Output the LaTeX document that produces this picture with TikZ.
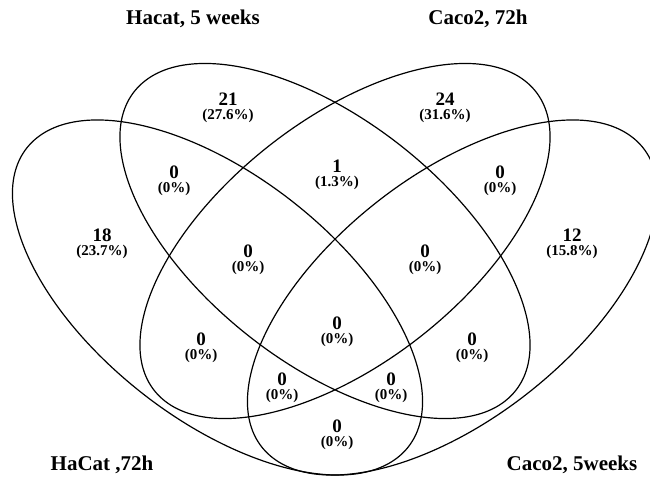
\documentclass[tikz,border=0pt]{standalone}
\usepackage{fontspec}
\setmainfont{Liberation Serif}
\usetikzlibrary{positioning}

\begin{document}
\begin{tikzpicture}[x=1pt, y=-1pt, line width=1.2pt,
    setname/.style={font=\bfseries\fontsize{21}{21}\selectfont},
    count/.style={inner sep=0pt, font=\bfseries\fontsize{19}{19}\selectfont},
    share/.style={inner sep=0pt, font=\bfseries\fontsize{15}{15}\selectfont}]
  \useasboundingbox (0,0) rectangle (650,477);
  \clip (0,0) rectangle (650,477);

  % the four sets: A = HaCat 72h, B = Hacat 5 weeks, C = Caco2 72h, D = Caco2 5weeks
  \foreach \cx/\cy/\ang in {217.5/297.5/-45, 325/241/-45, 345/241/45, 452.5/297.5/45}
    \draw[shift={(\cx,\cy)}, xscale=1.155, rotate=\ang] (0,0) ellipse [x radius=223.5, y radius=114.3];

  \node[setname] (B name) at (193,19) {Hacat, 5 weeks};
  \node[setname] (C name) at (478,19) {Caco2, 72h};
  \node[setname] (A name) at (102,465) {HaCat ,72h};
  \node[setname] (D name) at (572,465) {Caco2, 5weeks};

  % counts and shares per region
  \foreach \r/\x/\y/\num/\pct in {B/228/99/21/27.6, C/445/99/24/31.6,
      AB/174/172/0/0, BC/337/166/1/1.3, CD/500/172/0/0,
      A/102/235/18/23.7, D/572/235/12/15.8,
      ABC/248/251/0/0, BCD/425/251/0/0, ABCD/337/323/0/0,
      AC/201/339/0/0, BD/472/339/0/0,
      ACD/282/379/0/0, ABD/391/379/0/0, AD/337/426/0/0} {
    \node[count] (\r) at (\x,\y) {\num};
    \node[share, below=2.5pt of \r] (\r pct) {(\pct\%)};
  }
\end{tikzpicture}
\end{document}
